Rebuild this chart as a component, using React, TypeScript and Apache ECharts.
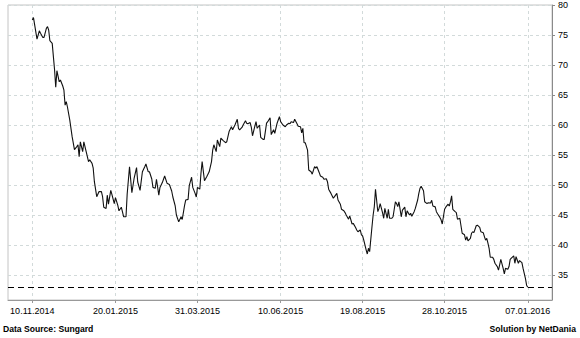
import React, { useEffect, useRef } from "react";
import * as echarts from "echarts";

const START_DATE = Date.UTC(2014, 10, 10); // 10.11.2014
const DAY_MS = 86400000;

// Day offsets from 10.11.2014 for each observation
const dayOffsets: number[] = [
  0, 1, 4, 6, 7, 9, 10, 12, 13, 14, 15, 17, 18, 19, 20, 21, 23, 24, 26, 27, 28, 29, 30, 32, 34, 36, 38, 39, 40, 41,
  43, 44, 46, 48, 49, 51, 52, 53, 55, 57, 59, 60, 61, 63, 64, 65, 67, 68, 70, 71, 73, 74, 76, 78, 80, 81, 83, 85, 87, 89,
  90, 92, 94, 96, 97, 99, 100, 102, 103, 105, 106, 108, 109, 111, 113, 115, 117, 119, 120, 122, 123, 125, 127, 128, 130, 131, 133, 134, 136, 137,
  139, 140, 141, 143, 144, 145, 147, 149, 151, 153, 154, 155, 157, 158, 160, 161, 163, 165, 166, 168, 170, 171, 173, 175, 176, 177, 179, 180, 182, 183,
  184, 186, 187, 188, 190, 191, 192, 194, 195, 197, 198, 200, 201, 203, 204, 206, 207, 209, 211, 212, 214, 216, 217, 219, 220, 221, 223, 224, 226, 227,
  229, 230, 231, 232, 233, 235, 236, 238, 239, 241, 242, 243, 245, 246, 248, 249, 251, 252, 253, 255, 257, 258, 260, 261, 263, 264, 266, 267, 268, 270,
  271, 273, 274, 276, 277, 278, 280, 281, 282, 283, 285, 286, 287, 288, 290, 291, 292, 293, 295, 296, 297, 299, 300, 301, 303, 304, 305, 307, 308, 310,
  311, 312, 313, 315, 316, 318, 319, 320, 322, 323, 324, 326, 327, 329, 330, 331, 332, 334, 335, 337, 338, 340, 341, 342, 344, 345, 346, 348, 349, 350,
  352, 353, 355, 356, 357, 358, 359, 361, 362, 363, 365, 366, 367, 369, 370, 371, 372, 374, 375, 376, 377, 379, 380, 382, 383, 385, 386, 387, 388, 389,
  390, 391, 393, 394, 395, 397, 398, 399, 400, 402, 403, 404, 406, 407, 408, 409, 411, 412, 413, 414, 415, 416, 418, 419, 421, 422, 423,
];

const prices: number[] = [
  77.5, 77.9, 74.3, 75.7, 75.3, 74.6, 74.6, 76.1, 76.4, 75.8, 74.05, 73.6, 71.4, 69.2, 66.3, 69.05, 67.2, 67.5, 66.5, 65.8, 63.3, 63.9, 63.0, 60.8, 58.05, 55.9, 56.4, 56.7, 54.7, 57.2,
  55.55, 57.2, 55.55, 53.9, 54.2, 53.6, 52.8, 50.55, 48.05, 48.9, 48.9, 48.05, 46.3, 46.1, 48.3, 46.8, 49.1, 48.4, 46.9, 47.9, 46.6, 45.7, 46.3, 44.7, 44.7, 48.5, 53.05, 48.7, 51.2, 52.9,
  50.5, 49.1, 52.2, 53.05, 53.5, 52.2, 52.2, 51.0, 49.6, 49.45, 50.95, 48.3, 49.6, 50.4, 51.5, 50.3, 50.1, 49.0, 48.0, 46.5, 45.0, 43.85, 44.7, 44.25, 46.6, 47.5, 47.6, 49.9, 51.3, 49.6,
  48.6, 48.0, 49.6, 49.3, 51.95, 53.9, 50.7, 51.4, 52.2, 53.9, 55.8, 56.7, 55.55, 57.5, 56.4, 57.8, 57.4, 57.05, 57.2, 58.9, 59.7, 59.2, 60.0, 60.95, 59.45, 59.2, 59.6, 60.0, 60.7, 60.3,
  60.2, 60.4, 59.6, 58.2, 59.8, 60.55, 59.45, 60.0, 57.95, 57.6, 57.6, 60.3, 60.55, 61.2, 58.4, 59.2, 58.6, 60.3, 61.4, 60.55, 60.0, 59.7, 60.0, 60.3, 60.2, 60.55, 60.4, 60.95, 60.2, 59.8,
  59.7, 58.7, 59.45, 57.05, 57.05, 55.8, 52.5, 52.2, 51.8, 53.05, 52.8, 53.05, 52.05, 51.5, 51.3, 50.95, 51.05, 50.55, 49.3, 48.6, 47.8, 48.05, 48.6, 47.5, 46.8, 45.95, 45.7, 45.4, 45.0, 44.3,
  44.85, 43.5, 43.6, 42.9, 42.5, 42.2, 42.5, 41.7, 41.5, 40.8, 39.2, 38.5, 39.45, 38.9, 43.05, 45.0, 46.4, 49.3, 45.55, 46.1, 46.9, 45.4, 44.45, 46.1, 44.45, 45.95, 44.45, 44.45, 44.7, 47.2,
  46.9, 46.4, 47.2, 44.7, 45.8, 46.3, 44.7, 45.7, 45.0, 45.3, 44.8, 45.55, 46.1, 47.5, 48.6, 49.45, 49.8, 49.05, 47.2, 46.9, 47.05, 47.0, 47.45, 46.5, 46.35, 45.55, 45.2, 44.6, 44.2, 43.5,
  45.95, 46.3, 46.8, 46.5, 47.2, 48.2, 45.95, 45.55, 45.4, 44.3, 44.45, 43.2, 41.95, 41.7, 40.8, 41.4, 40.7, 41.1, 41.95, 42.2, 42.05, 43.2, 43.3, 42.95, 42.2, 42.05, 41.4, 40.8, 41.1, 40.3,
  39.45, 37.95, 37.95, 37.6, 36.95, 36.4, 35.8, 36.7, 37.6, 36.1, 35.2, 36.1, 35.95, 36.4, 37.6, 37.8, 38.2, 36.95, 38.05, 37.5, 36.95, 37.4, 37.05, 36.1, 34.45, 33.3, 32.95,
];

// X-axis tick dates (day offsets from 10.11.2014)
const xTickDays: number[] = [0, 71, 141, 212, 282, 352, 423];
// Y-axis tick labels
const yTicks: number[] = [35, 40, 45, 50, 55, 60, 65, 70, 75, 80];

const Y_MIN = 30.83;
const Y_MAX = 80;
const X_MIN_DAYS = -20.75;
const X_MAX_DAYS = 443.7;

const pad = (n: number) => (n < 10 ? "0" + n : "" + n);
const fmtDay = (day: number) => {
  const d = new Date(START_DATE + Math.round(day) * DAY_MS);
  return pad(d.getUTCDate()) + "." + pad(d.getUTCMonth() + 1) + "." + d.getUTCFullYear();
};

export default function App() {
  const ref = useRef<HTMLDivElement>(null);

  useEffect(() => {
    if (!ref.current) return;
    const chart = echarts.init(ref.current, undefined, { renderer: "svg" });
    const seriesData = dayOffsets.map((d, i) => [d, prices[i]]);
    const lastPrice = prices[prices.length - 1];
    const font = "'Liberation Sans', Arial, sans-serif";

    chart.setOption({
      animation: false,
      backgroundColor: "#ffffff",
      grid: {
        left: 8,
        right: 28,
        top: 5,
        bottom: 38,
        show: true,
        borderColor: "#c4c4c4",
        borderWidth: 1,
        backgroundColor: "transparent",
      },
      xAxis: {
        type: "value",
        min: X_MIN_DAYS,
        max: X_MAX_DAYS,
        axisLine: { show: true, onZero: false, lineStyle: { color: "#999999", width: 1 } },
        axisTick: { show: true, length: 3, lineStyle: { color: "#999999" }, customValues: xTickDays },
        axisLabel: {
          customValues: xTickDays,
          formatter: (v: number) => fmtDay(v),
          color: "#000000",
          fontSize: 9,
          fontFamily: font,
          margin: 6,
        },
        splitLine: { show: true, lineStyle: { color: "#d2dada", type: [3, 3], width: 1 } },
      },
      yAxis: {
        type: "value",
        position: "right",
        min: Y_MIN,
        max: Y_MAX,
        axisLine: { show: true, onZero: false, lineStyle: { color: "#8a8a8a", width: 1 } },
        axisTick: { show: true, length: 3, lineStyle: { color: "#8a8a8a" }, customValues: yTicks },
        axisLabel: {
          customValues: yTicks,
          color: "#000000",
          fontSize: 9,
          fontFamily: font,
          margin: 6,
        },
        splitLine: { show: true, lineStyle: { color: "#d2dada", type: [3, 3], width: 1 } },
      },
      series: [
        {
          type: "line",
          data: seriesData,
          showSymbol: false,
          symbol: "none",
          lineStyle: { color: "#111111", width: 1.1 },
          z: 3,
          markLine: {
            silent: true,
            symbol: ["none", "none"],
            label: { show: false },
            lineStyle: { color: "#000000", type: [6, 4], width: 1.2 },
            data: [{ yAxis: lastPrice }],
          },
        },
      ],
      graphic: [
        {
          type: "text",
          left: 3,
          top: 324,
          style: {
            text: "Data Source: Sungard",
            fill: "#000000",
            font: "bold 8.6px 'Liberation Sans', Arial, sans-serif",
          },
        },
        {
          type: "text",
          right: 4,
          top: 324,
          style: {
            text: "Solution by NetDania",
            fill: "#000000",
            font: "bold 8.6px 'Liberation Sans', Arial, sans-serif",
          },
        },
      ],
    });

    return () => chart.dispose();
  }, []);

  return (
    <div
      ref={ref}
      style={{ position: "fixed", left: 0, top: 0, width: 580, height: 338, background: "#fff" }}
    />
  );
}
